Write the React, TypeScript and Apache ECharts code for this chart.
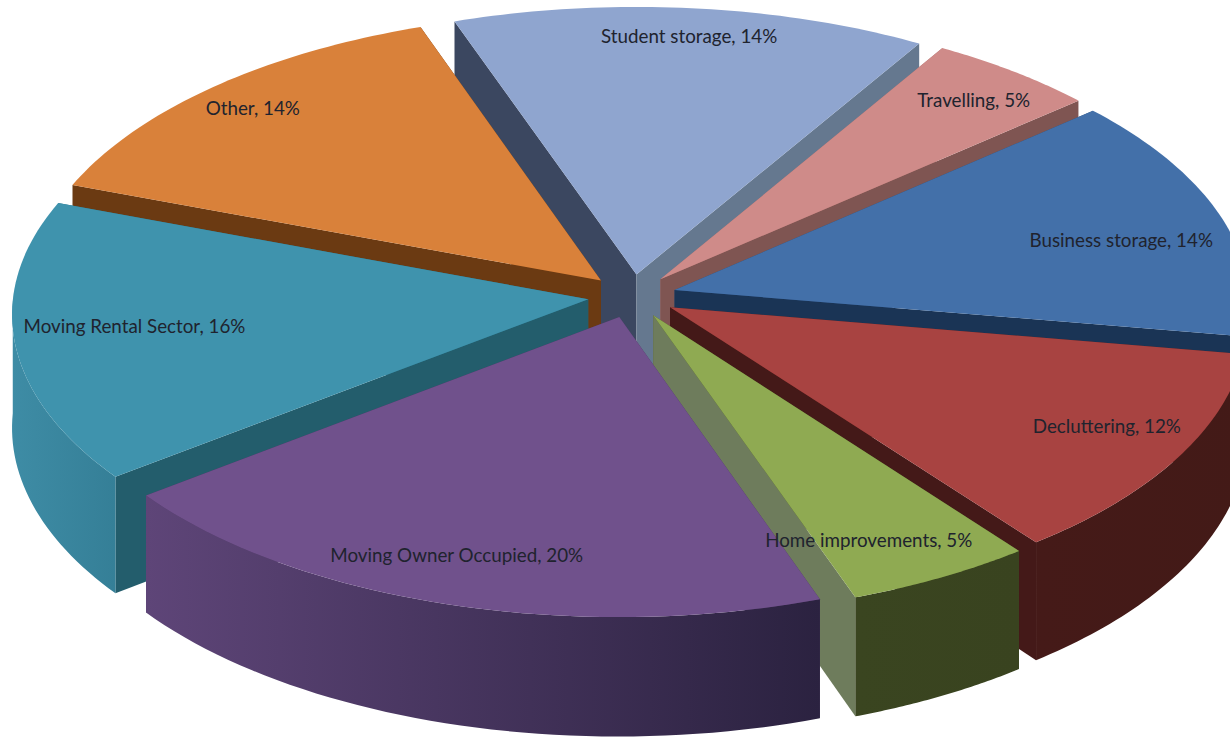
import React, { useEffect, useRef } from "react";
import * as echarts from "echarts";

const categories = [
  "Student storage",
  "Travelling",
  "Business storage",
  "Decluttering",
  "Home improvements",
  "Moving Owner Occupied",
  "Moving Rental Sector",
  "Other",
];
const shares = [14, 5, 14, 12, 5, 20, 16, 14];
const topColors = ["#8FA5CF", "#CF8B89", "#4370A9", "#A84341", "#8FAA52", "#70518C", "#3F93AD", "#D9813A"];
const startWallColors = ["#3B4760", "#A9706D", "#2A4A75", "#5A201E", "#4C5A2A", "#4A3660", "#235D6C", "#6B3A12"];
const endWallColors = ["#65788F", "#7F5552", "#1A3455", "#441918", "#6E7C5C", "#4A3660", "#2A7388", "#6B3A12"];
const outerWallStops = [
  ["#6F84A8", "#6F84A8"],
  ["#7F5552", "#7F5552"],
  ["#2D5380", "#2D5380"],
  ["#451A18", "#431A17"],
  ["#3A4520", "#39431F"],
  ["#5E4578", "#2B2240"],
  ["#3E8CA5", "#357F97"],
  ["#8A4F1E", "#8A4F1E"],
];
// Label anchor on each slice: offset from the bisector in degrees, radius as a share of the pie radius.
const labelPlacement = [
  [0.4, 0.893],
  [0.6, 0.87],
  [2.8, 0.806],
  [-2.2, 0.846],
  [3.1, 0.838],
  [2.0, 0.845],
  [2.0, 0.79],
  [-0.1, 0.893],
];

// Projection of the tilted pie.
const START_ANGLE = -19.4;
const EXPLODE = 0.077;
const CX = 632;
const CY = 296;
const RX = 575;
const RY = 283;
const PERSPECTIVE = 0.05;
const THICKNESS = 113;

const total = shares.reduce((a, b) => a + b, 0);
const starts: number[] = [];
shares.reduce((acc, v, i) => {
  starts[i] = acc;
  return acc + v;
}, 0);
const angleOf = (share: number) => START_ANGLE + (share / total) * 360;
const rad = (d: number) => (d * Math.PI) / 180;

function project(x: number, y: number, drop: boolean): [number, number] {
  const w = 1 + y * PERSPECTIVE;
  const sx = CX + (RX * x) / w;
  const sy = CY - (RY * y) / w + (drop ? THICKNESS / w : 0);
  return [sx, sy];
}

function slicePoint(i: number, theta: number, r: number, drop: boolean) {
  const mid = rad(angleOf(starts[i] + shares[i] / 2));
  const x = r * Math.sin(rad(theta)) + EXPLODE * Math.sin(mid);
  const y = r * Math.cos(rad(theta)) + EXPLODE * Math.cos(mid);
  return project(x, y, drop);
}

// Back slices are painted first, so nearer ones cover them.
const paintOrder = categories
  .map((_, i) => i)
  .sort(
    (a, b) =>
      Math.cos(rad(angleOf(starts[b] + shares[b] / 2))) -
      Math.cos(rad(angleOf(starts[a] + shares[a] / 2)))
  );

function renderSlice(params: any, api: any) {
  const i = paintOrder[params.dataIndex];
  const value = api.value(0);
  const from = angleOf(api.value(1));
  const to = from + (value / total) * 360;
  const steps = 48;
  const arcTop: number[][] = [];
  const arcBottom: number[][] = [];
  const frontTop: number[][] = [];
  const frontBottom: number[][] = [];
  for (let s = 0; s <= steps; s++) {
    const t = from + ((to - from) * s) / steps;
    const upper = slicePoint(i, t, 1, false);
    const lower = slicePoint(i, t, 1, true);
    arcTop.push(upper);
    arcBottom.push(lower);
    // Only the part of the rim that faces the viewer gets a wall.
    if (Math.cos(rad(t)) < 0) {
      frontTop.push(upper);
      frontBottom.push(lower);
    }
  }
  const apexTop = slicePoint(i, 0, 0, false);
  const apexBottom = slicePoint(i, 0, 0, true);
  const poly = (points: number[][], fill: any) => ({
    type: "polygon",
    shape: { points },
    style: { fill, stroke: null },
  });
  const cuts = [
    { at: from, wall: [apexTop, arcTop[0], arcBottom[0], apexBottom], color: startWallColors[i] },
    { at: to, wall: [apexTop, arcTop[steps], arcBottom[steps], apexBottom], color: endWallColors[i] },
  ].sort((a, b) => Math.cos(rad(b.at)) - Math.cos(rad(a.at)));
  const children: any[] = cuts.map((c) => poly(c.wall, c.color));
  if (frontTop.length > 1) {
    children.push(
      poly([...frontTop, ...frontBottom.slice().reverse()], {
        type: "linear",
        x: 0,
        y: 0,
        x2: 1,
        y2: 0,
        colorStops: [
          { offset: 0, color: outerWallStops[i][0] },
          { offset: 1, color: outerWallStops[i][1] },
        ],
      })
    );
  }
  children.push(poly([apexTop, ...arcTop], topColors[i]));
  return { type: "group", children };
}

function renderLabel(params: any, api: any) {
  const i = params.dataIndex;
  const mid = angleOf(starts[i] + api.value(0) / 2);
  const [da, r] = labelPlacement[i];
  const [x, y] = slicePoint(i, mid + da, r, false);
  return {
    type: "text",
    style: {
      x,
      y,
      text: `${categories[i]}, ${api.value(0)}%`,
      font: "18.8px Lato",
      fill: "#20232E",
      align: "center",
      verticalAlign: "middle",
    },
  };
}

export default function App() {
  const ref = useRef<HTMLDivElement>(null);
  useEffect(() => {
    document.body.style.margin = "0";
    const chart = echarts.init(ref.current!, null, { renderer: "svg" });
    chart.setOption({
      animation: false,
      backgroundColor: "#FFFFFF",
      series: [
        {
          type: "custom",
          coordinateSystem: "none",
          silent: true,
          data: paintOrder.map((i) => [shares[i], starts[i]]),
          renderItem: renderSlice,
          z: 1,
        },
        {
          type: "custom",
          coordinateSystem: "none",
          silent: true,
          data: shares.map((v) => [v]),
          renderItem: renderLabel,
          z: 2,
        },
      ],
    });
    return () => chart.dispose();
  }, []);
  return <div ref={ref} style={{ width: 1230, height: 738, overflow: "hidden" }} />;
}
